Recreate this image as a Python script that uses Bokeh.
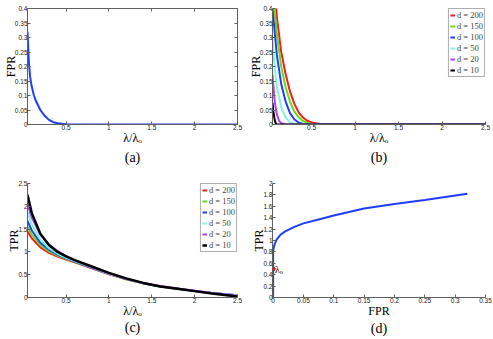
from bokeh.plotting import figure
from bokeh.layouts import gridplot
from bokeh.models import FixedTicker, LinearAxis, Range1d, Legend, LegendItem
from bokeh.core.properties import value
from bokeh.embed import file_html
from bokeh.resources import INLINE

# ---------------- data ----------------
D_LABELS = ["d = 200", "d = 150", "d = 100", "d = 50", "d = 20", "d = 10"]
D_COLORS = ["#ff1a1a", "#5ee01a", "#1f3dff", "#7ff5dc", "#b23cff", "#000000"]

# (a) FPR vs lambda/lambda_o
A_X = [0.05, 0.065, 0.08, 0.1, 0.125, 0.15, 0.2, 0.25, 0.3, 0.35, 0.4, 0.5, 0.6, 1.0, 2.5]
A_Y = [0.32, 0.22, 0.165, 0.13, 0.1, 0.08, 0.05, 0.03, 0.016, 0.008, 0.004, 0.001, 0.0, 0.0, 0.0]

# (b) FPR for several d
B_X = [
    [0.05, 0.08, 0.1, 0.15, 0.2, 0.25, 0.3, 0.35, 0.4, 0.45, 0.5, 0.6, 0.8, 2.5],
    [0.05, 0.08, 0.1, 0.15, 0.2, 0.25, 0.3, 0.35, 0.4, 0.45, 0.5, 0.6, 0.8, 2.5],
    [0.05, 0.1, 0.15, 0.2, 0.25, 0.3, 0.35, 0.4, 0.5, 2.5],
    [0.05, 0.075, 0.1, 0.15, 0.2, 0.25, 0.3, 0.4, 2.5],
    [0.05, 0.075, 0.1, 0.125, 0.15, 0.2, 2.5],
    [0.05, 0.06, 0.07, 0.08, 0.09, 0.1, 2.5],
]
B_Y = [
    [0.6, 0.45, 0.37, 0.25, 0.175, 0.115, 0.072, 0.042, 0.024, 0.013, 0.007, 0.002, 0.0, 0.0],
    [0.5, 0.38, 0.31, 0.2, 0.13, 0.08, 0.045, 0.025, 0.012, 0.006, 0.003, 0.0005, 0.0, 0.0],
    [0.4, 0.24, 0.14, 0.08, 0.04, 0.018, 0.007, 0.002, 0.0, 0.0],
    [0.3, 0.2, 0.13, 0.06, 0.025, 0.008, 0.002, 0.0, 0.0],
    [0.17, 0.08, 0.035, 0.013, 0.004, 0.0, 0.0],
    [0.075, 0.045, 0.025, 0.01, 0.003, 0.0, 0.0],
]

# (c) TPR for several d
C_X = [0.05, 0.1, 0.2, 0.3, 0.4, 0.5, 0.6, 0.8, 1.0, 1.2, 1.4, 1.6, 1.8, 2.0, 2.2, 2.5]
C_Y = [
    [1.45, 1.3, 1.1, 0.98, 0.9, 0.83, 0.77, 0.64, 0.51, 0.4, 0.31, 0.24, 0.19, 0.14, 0.1, 0.05],
    [1.55, 1.38, 1.15, 1.01, 0.92, 0.85, 0.78, 0.65, 0.52, 0.4, 0.31, 0.24, 0.19, 0.14, 0.1, 0.05],
    [1.68, 1.47, 1.2, 1.05, 0.94, 0.86, 0.79, 0.65, 0.52, 0.41, 0.31, 0.24, 0.19, 0.14, 0.1, 0.05],
    [1.88, 1.6, 1.27, 1.08, 0.96, 0.87, 0.8, 0.66, 0.52, 0.41, 0.31, 0.24, 0.19, 0.14, 0.1, 0.05],
    [2.05, 1.75, 1.38, 1.16, 1.02, 0.91, 0.82, 0.67, 0.53, 0.41, 0.32, 0.25, 0.2, 0.15, 0.1, 0.04],
    [2.25, 1.85, 1.4, 1.15, 1.0, 0.9, 0.82, 0.68, 0.54, 0.42, 0.32, 0.24, 0.19, 0.14, 0.09, 0.02],
]

# (d) ROC: TPR vs FPR
D_FPR = [0.0, 0.0, 0.001, 0.003, 0.006, 0.012, 0.02, 0.035, 0.05, 0.075, 0.1, 0.15, 0.2, 0.25, 0.32]
D_TPR = [0.0, 0.8, 0.88, 0.95, 1.02, 1.1, 1.16, 1.24, 1.3, 1.37, 1.44, 1.56, 1.64, 1.71, 1.82]
D_MARK = (0.0, 0.5)
D_MARK_LABEL = "λₒ"

# ticks
X_TICKS_L = [0.5, 1, 1.5, 2, 2.5]
X_LABELS_L = ["0.5", "1", "1.5", "2", "2.5"]
Y_TICKS_FPR = [0, 0.05, 0.1, 0.15, 0.2, 0.25, 0.3, 0.35, 0.4]
Y_LABELS_FPR = ["0", "0.05", "0.1", "0.15", "0.2", "0.25", "0.3", "0.35", "0.4"]
Y_TICKS_C = [0, 0.5, 1, 1.5, 2, 2.5]
Y_LABELS_C = ["0", "0.5", "1", "1.5", "2", "2.5"]
X_TICKS_D = [0, 0.05, 0.1, 0.15, 0.2, 0.25, 0.3, 0.35]
X_LABELS_D = ["0", "0.05", "0.1", "0.15", "0.2", "0.25", "0.3", "0.35"]
Y_TICKS_D = [0, 0.2, 0.4, 0.6, 0.8, 1, 1.2, 1.4, 1.6, 1.8, 2]
Y_LABELS_D = ["0", "0.2", "0.4", "0.6", "0.8", "1", "1.2", "1.4", "1.6", "1.8", "2"]

XLAB = "λ/λₒ"

# ---------------- styling helpers ----------------
SERIF = "'Liberation Serif', serif"
SANS = "Liberation Sans"
AX = "#606060"
TICK_FS = "6.5px"


def style_axis(ax, ticks, labels):
    ax.ticker = FixedTicker(ticks=ticks)
    ax.major_label_overrides = {t: l for t, l in zip(ticks, labels)}
    ax.major_label_text_font = SANS
    ax.major_label_text_font_size = TICK_FS
    ax.major_label_text_color = "#202020"
    ax.major_label_standoff = 0
    ax.major_tick_in = 3
    ax.major_tick_out = 0
    ax.major_tick_line_color = AX
    ax.minor_tick_line_color = None
    ax.axis_line_color = AX
    ax.axis_line_width = 1
    ax.axis_label_text_font = SERIF
    ax.axis_label_text_font_size = "12px"
    ax.axis_label_text_font_style = "normal"
    ax.axis_label_text_color = "#000000"
    ax.axis_label_standoff = -2


def make_fig(w, h, xr, yr, xt, xl, yt, yl, xlabel, ylabel, tag, mbt, mbb, mbr, tag_so):
    p = figure(width=w, height=h, x_range=Range1d(*xr), y_range=Range1d(*yr),
               output_backend="svg", toolbar_location=None,
               min_border_left=0, min_border_right=mbr,
               min_border_top=mbt, min_border_bottom=mbb)
    p.xgrid.visible = False
    p.ygrid.visible = False
    p.outline_line_color = None
    p.background_fill_color = "white"
    p.border_fill_color = "white"
    style_axis(p.xaxis[0], xt, xl)
    style_axis(p.yaxis[0], yt, yl)
    p.xaxis[0].axis_label = xlabel
    p.yaxis[0].axis_label = ylabel
    p.yaxis[0].axis_label_standoff = -6
    # sub-figure tag "(a)" etc. as the label of a bare axis below
    tag_ax = LinearAxis(ticker=FixedTicker(ticks=[]), axis_label=tag,
                        axis_line_color=None, major_tick_line_color=None,
                        major_tick_in=0, major_tick_out=0,
                        minor_tick_line_color=None, minor_tick_in=0, minor_tick_out=0,
                        major_label_standoff=0, major_label_text_font_size="0px",
                        axis_label_text_font=SERIF, axis_label_text_font_size="14px",
                        axis_label_text_font_style="normal", axis_label_text_color="#000000",
                        axis_label_standoff=tag_so)
    p.add_layout(tag_ax, "below")
    return p


def make_legend(p, renderers):
    items = [LegendItem(label=lab, renderers=[r]) for lab, r in zip(D_LABELS, renderers)]
    lg = Legend(items=items, location="top_right", margin=0, padding=1, spacing=1,
                label_text_font=SERIF, label_text_font_size="8.5px", label_height=10,
                glyph_height=10, glyph_width=5, label_standoff=2,
                border_line_color=AX, border_line_width=1,
                background_fill_color="white", background_fill_alpha=1.0)
    p.add_layout(lg)


# ---------------- (a) ----------------
pa = make_fig(245, 170, (0.05, 2.5), (0, 0.4), X_TICKS_L, X_LABELS_L, Y_TICKS_FPR, Y_LABELS_FPR,
              XLAB, "FPR", "(a)", 8, 45, 8, 2)
pa.line(A_X, A_Y, line_color="#1f3dff", line_width=2)
for loc, ticks in (("above", X_TICKS_L), ("right", Y_TICKS_FPR)):
    ax = LinearAxis()
    style_axis(ax, ticks, ["" for _ in ticks])
    ax.major_label_text_font_size = "0px"
    ax.major_label_standoff = 0
    pa.add_layout(ax, loc)

# ---------------- (b) ----------------
pb = make_fig(247, 170, (0.05, 2.5), (0, 0.4), X_TICKS_L, X_LABELS_L, Y_TICKS_FPR, Y_LABELS_FPR,
              XLAB, "FPR", "(b)", 3, 46, 5, 2)
rb = []
for xs, ys, c in zip(B_X, B_Y, D_COLORS):
    rb.append(pb.line(xs, ys, line_color=c, line_width=2))
make_legend(pb, rb)

# ---------------- (c) ----------------
pc = make_fig(245, 168, (0.05, 2.5), (0, 2.5), X_TICKS_L, X_LABELS_L, Y_TICKS_C, Y_LABELS_C,
              XLAB, "TPR", "(c)", 6, 41, 7, -1)
rc = []
for ys, c in zip(C_Y, D_COLORS):
    rc.append(pc.line(C_X, ys, line_color=c, line_width=2.5 if c == "#000000" else 2))
make_legend(pc, rc)

# ---------------- (d) ----------------
pd_ = make_fig(247, 168, (-0.001, 0.35), (0, 2), X_TICKS_D, X_LABELS_D, Y_TICKS_D, Y_LABELS_D,
               "FPR", "TPR", "(d)", 13, 40, 7, 0)
pd_.line(D_FPR, D_TPR, line_color="#1f3dff", line_width=2)
pd_.scatter([D_MARK[0]], [D_MARK[1]], size=4, color="#ff0000")
pd_.text([D_MARK[0]], [D_MARK[1]], text=[D_MARK_LABEL], text_font=value(SERIF),
         text_font_size="10px", text_baseline="middle", x_offset=2, text_color="#000000")

grid = gridplot([[pa, pb], [pc, pd_]], toolbar_location=None)

open("out.html", "w").write(file_html(grid, INLINE))
